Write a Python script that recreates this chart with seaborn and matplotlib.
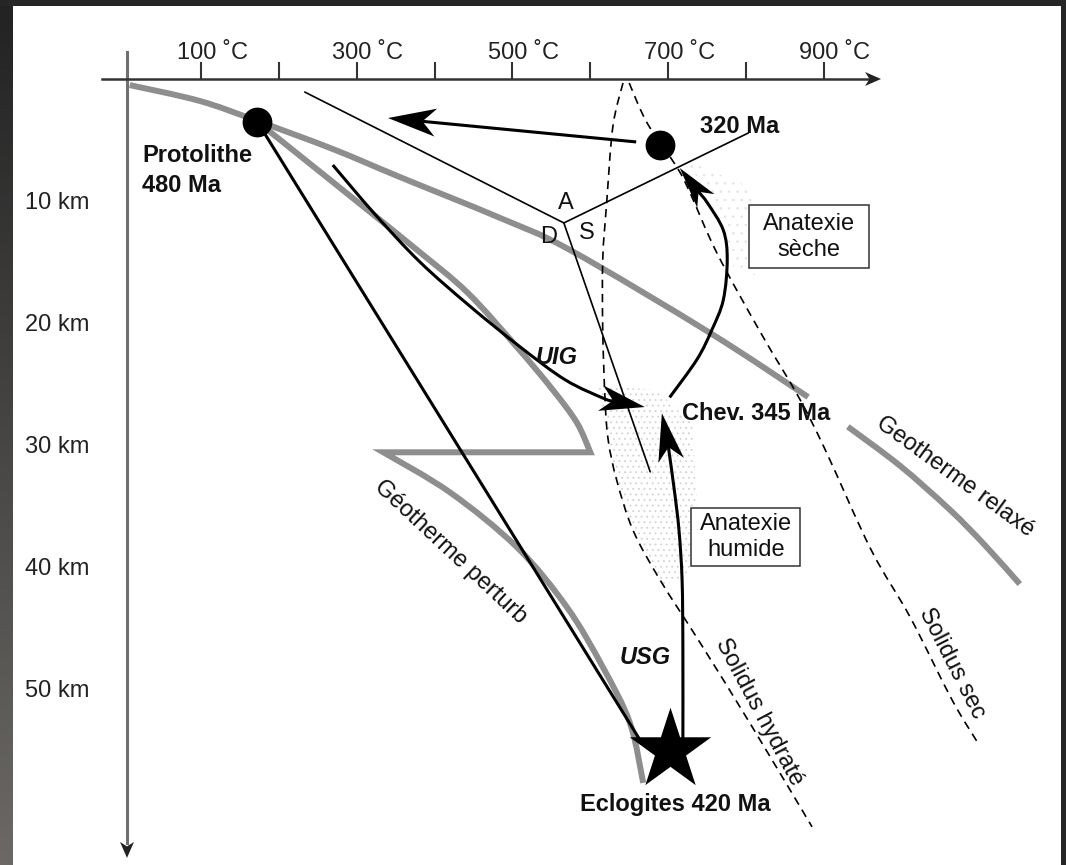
import numpy as np
import matplotlib
matplotlib.use("Agg")
import matplotlib.pyplot as plt
from matplotlib.patches import Polygon, Rectangle, PathPatch
from matplotlib.path import Path
from matplotlib.transforms import ScaledTranslation
import seaborn as sns

# ---------------------------------------------------------------
# values: temperature in °C, depth in km
# ---------------------------------------------------------------
temp_ticks = [100, 200, 300, 400, 500, 600, 700, 800, 900]
temp_labels = ["100 ˚C", "", "300 ˚C", "", "500 ˚C", "", "700 ˚C", "", "900 ˚C"]
depth_ticks = [10, 20, 30, 40, 50]
depth_labels = ["10 km", "20 km", "30 km", "40 km", "50 km"]

# geotherme relaxé (broken around the "Chev. 345 Ma" label)
relaxe_t1 = [8, 98, 172, 269, 355, 484, 574, 754, 880]
relaxe_d1 = [0.5, 1.8, 3.44, 5.74, 8.03, 11.39, 14.02, 20.82, 26.07]
relaxe_t2 = [931, 998, 1062, 1107, 1152]
relaxe_d2 = [28.5, 31.7, 35.3, 38.2, 41.4]

# géotherme perturbé: upper branch, then the thrust step at 30 km, then lower branch
perturbe_up_t = [172, 227, 313, 377, 442, 506, 552, 583, 600]
perturbe_up_d = [3.5, 6.3, 10.7, 14.0, 17.5, 22.0, 25.5, 28.2, 30.6]
perturbe_lo_t = [334, 420, 506, 570, 616, 651, 668]
perturbe_lo_d = [30.6, 33.9, 38.4, 43.3, 48.2, 52.8, 57.7]

# solidus curves
hydrate_t = [642, 629, 621, 616, 616, 619, 623, 634, 655, 690, 741, 808, 885]
hydrate_d = [0.33, 3.9, 10.2, 14.8, 20.6, 26.3, 29.6, 32.9, 37.0, 41.1, 46.2, 53.1, 61.3]
sec_t = [650, 673, 711, 728, 763, 819, 868, 902, 961, 1011, 1065, 1098]
sec_d = [0.33, 3.6, 7.2, 9.3, 14.3, 20.8, 26.1, 30.4, 38.6, 44.1, 50.9, 54.4]

# reaction lines around the A / D / S triple point
triple_t, triple_d = 566, 11.8
reac_a_t, reac_a_d = 233, 1.07
reac_up_t, reac_up_d = 803, 4.43
reac_s_t, reac_s_d = 677, 32.2

# P-T paths
prograde_t = [172, 665]
prograde_d = [3.5, 54.3]
retro_t = [659, 340]
retro_d = [5.16, 3.20]
uig_t = [269, 323, 381, 445, 510, 568, 619, 670]
uig_d = [7.05, 11.07, 15.0, 18.61, 21.97, 24.67, 26.23, 26.89]
usg_t = [719, 719, 718, 714, 708, 700, 692]
usg_d = [54.2, 46.8, 41.1, 37.0, 33.7, 30.0, 27.4]
seche_t = [702, 737, 756, 771, 776, 771, 751, 715]
seche_d = [26.1, 23.0, 20.6, 18.1, 14.8, 12.4, 10.2, 7.3]

# stages
stage_t = [172, 690]
stage_d = [3.5, 5.4]
eclogite_t, eclogite_d = 702, 55.0

# stippled melting zones
stip1_t = [610, 683, 731, 737, 728, 692, 655, 628, 618]
stip1_d = [25.1, 25.5, 28.0, 34.5, 40.7, 41.5, 37.0, 32.0, 28.0]
stip2_t = [722, 799, 831, 812, 782, 760]
stip2_d = [6.6, 8.7, 13.2, 16.1, 15.3, 10.3]

GRAY = "#8e8e8e"

sns.set_theme(style="white")
plt.rcParams["font.family"] = ["Liberation Sans", "DejaVu Sans"]

fig = plt.figure(figsize=(10.66, 8.65), dpi=100)
fig.patch.set_facecolor("#262626")
fig.add_artist(Rectangle((13 / 1066, 0), 1048 / 1066, 1 - 6 / 865,
                         transform=fig.transFigure, fc="white", ec="none", zorder=-2))
# left strip gradient
sax = fig.add_axes([0, 0, 13 / 1066, 1 - 6 / 865])
grad = np.linspace(0, 1, 256).reshape(-1, 1)
sax.imshow(grad, aspect="auto", cmap=matplotlib.colors.LinearSegmentedColormap.from_list(
    "strip", ["#232323", "#6b6865"]))
sax.set_axis_off()

ax = fig.add_axes([0, 0, 1, 1])
ax.set_facecolor("none")
ax.set_xlim(-158.74, 1211.44)
ax.set_ylim(64.43, -6.475)


def smooth(t, d, first=True):
    # Catmull-Rom through the read points, handed to matplotlib as cubic Bezier segments
    p = np.column_stack([t, d]).astype(float)
    ext = np.vstack([p[0], p, p[-1]])
    verts = [p[0]] if first else []
    codes = [Path.MOVETO] if first else []
    for i in range(len(p) - 1):
        p0, p1, p2, p3 = ext[i], ext[i + 1], ext[i + 2], ext[i + 3]
        verts += [p1 + (p2 - p0) / 6, p2 - (p3 - p1) / 6, p2]
        codes += [Path.CURVE4] * 3
    return verts, codes


def curve(t, d, color, lw, z, ls="-", join="round"):
    v, c = smooth(t, d)
    ax.add_patch(PathPatch(Path(v, c), fc="none", ec=color, lw=lw, ls=ls, zorder=z,
                           capstyle="butt", joinstyle=join))


def arrow_head(tip_t, tip_d, from_t, from_d, length, width, color="black", z=5):
    p = ax.transData.transform([[from_t, from_d], [tip_t, tip_d]])
    tip = p[1]
    u = tip - p[0]
    u = u / np.hypot(*u)
    n = np.array([-u[1], u[0]])
    notch = tip - 0.72 * length * u
    head = np.array([tip, tip - length * u + width * n, notch, tip - length * u - width * n])
    inv = ax.transData.inverted()
    ax.add_patch(Polygon(inv.transform(head), closed=True, fc=color, ec="none", zorder=z))
    return inv.transform(notch)


def arrow_path(t, d, length, width, lw=2.2, z=5):
    nt, nd = arrow_head(t[-1], d[-1], t[-2], d[-2], length, width, z=z)
    xs = list(t[:-1]) + [nt]
    ys = list(d[:-1]) + [nd]
    if len(xs) > 2:
        curve(xs, ys, "black", lw, z)
    else:
        sns.lineplot(x=xs, y=ys, sort=False, estimator=None, color="black", lw=lw,
                     ax=ax, zorder=z, solid_capstyle="butt")


# axes as spines
for s in ["right", "bottom"]:
    ax.spines[s].set_visible(False)
ax.spines["top"].set_position(("data", 0))
ax.spines["top"].set_bounds(-27.6, 960)
ax.spines["top"].set_color("#333333")
ax.spines["top"].set_linewidth(1.8)
ax.spines["left"].set_position(("data", 4.5))
ax.spines["left"].set_bounds(-2.21, 62.6)
ax.spines["left"].set_color("#707070")
ax.spines["left"].set_linewidth(2.2)
ax.xaxis.tick_top()
ax.set_xticks(temp_ticks)
ax.set_xticklabels(temp_labels)
ax.set_yticks(depth_ticks)
ax.set_yticklabels(depth_labels)
ax.tick_params(axis="x", direction="out", length=12.2, width=1.5, color="#333333",
               pad=0, labelsize=17, labelcolor="#222222")
ax.tick_params(axis="y", direction="out", length=19.4, width=1.5, color="#333333",
               pad=8, labelsize=17, labelcolor="#222222")
for lab in ax.get_xticklabels():
    lab.set_transform(lab.get_transform() + ScaledTranslation(0.11, -0.02, fig.dpi_scale_trans))
arrow_head(973.7, 0, 900, 0, 16, 7, color="#222222")
arrow_head(4.5, 63.85, 4.5, 55, 16, 7, color="#222222")

# stippled zones
plt.rcParams["hatch.linewidth"] = 0.6
ax.fill(stip1_t, stip1_d, facecolor="white", edgecolor="#d2d2d2", hatch="...",
        linewidth=0, zorder=1)
ax.fill(stip2_t, stip2_d, facecolor="white", edgecolor="#e4e4e4", hatch="..",
        linewidth=0, zorder=1)

# geotherms
curve(relaxe_t1, relaxe_d1, GRAY, 4.3, 2)
curve(relaxe_t2, relaxe_d2, GRAY, 4.3, 2)
v_up, c_up = smooth(perturbe_up_t, perturbe_up_d)
v_lo, c_lo = smooth(perturbe_lo_t, perturbe_lo_d, first=False)
v_all = v_up + [np.array([perturbe_lo_t[0], perturbe_lo_d[0]])] + v_lo
c_all = c_up + [Path.LINETO] + c_lo
ax.add_patch(PathPatch(Path(v_all, c_all), fc="none", ec=GRAY, lw=4.3, zorder=2,
                       capstyle="butt", joinstyle="miter"))

# solidus
curve(hydrate_t, hydrate_d, "black", 1.2, 3, ls=(0, (5, 3.5)))
curve(sec_t, sec_d, "black", 1.2, 3, ls=(0, (5, 3.5)))

# reaction lines
for et, ed in [(reac_a_t, reac_a_d), (reac_up_t, reac_up_d), (reac_s_t, reac_s_d)]:
    sns.lineplot(x=[triple_t, et], y=[triple_d, ed], sort=False, estimator=None,
                 color="black", lw=1.2, ax=ax, zorder=3)

# P-T paths
sns.lineplot(x=prograde_t, y=prograde_d, sort=False, estimator=None, color="black",
             lw=2.2, ax=ax, zorder=4)
arrow_path(retro_t, retro_d, 48, 14)
arrow_path(uig_t, uig_d, 45, 13)
arrow_path(usg_t, usg_d, 48, 13)
arrow_path(seche_t, seche_d, 42, 11)

# stages
sns.scatterplot(x=stage_t, y=stage_d, s=460, color="black", linewidth=0, ax=ax, zorder=6)
sns.scatterplot(x=[eclogite_t], y=[eclogite_d], s=3800, marker="*", color="black",
                linewidth=0, ax=ax, zorder=6)

# labels
bold = dict(fontsize=17, fontweight="bold", color="#111111", zorder=7)
norm = dict(fontsize=17, color="#111111", zorder=7)
ax.text(23.8, 6.31, "Protolithe", ha="left", va="center", **bold)
ax.text(23.8, 8.77, "480 Ma", ha="left", va="center", **bold)
ax.text(741, 3.93, "320 Ma", ha="left", va="center", **bold)
ax.text(717.8, 27.38, "Chev. 345 Ma", ha="left", va="center", **bold)
ax.text(708.8, 59.43, "Eclogites 420 Ma", ha="center", va="center", **bold)
ax.text(557, 22.79, "UIG", ha="center", va="center", style="italic", **bold)
ax.text(670, 47.46, "USG", ha="center", va="center", style="italic", **bold)
ax.text(568.7, 10.16, "A", ha="center", va="center", **norm)
ax.text(546.9, 12.95, "D", ha="center", va="center", **norm)
ax.text(595.7, 12.62, "S", ha="center", va="center", **norm)
ax.text(419.7, 38.77, "Géotherme perturb", rotation=-43, rotation_mode="anchor",
        ha="center", va="center", **norm)
ax.text(1068.7, 32.62, "Geotherme relaxé", rotation=-36, rotation_mode="anchor",
        ha="center", va="center", **norm)
ax.text(816.8, 51.89, "Solidus hydraté", rotation=-62, rotation_mode="anchor",
        ha="center", va="center", **norm)
ax.text(1064.9, 47.87, "Solidus sec", rotation=-63, rotation_mode="anchor",
        ha="center", va="center", **norm)

# boxed labels
ax.add_patch(Rectangle((804.0, 10.37), 154.2, 5.16, fc="white", ec="#333333", lw=1.1, zorder=6))
ax.text(881.1, 12.95, "Anatexie\nsèche", ha="center", va="center", linespacing=1.25, **norm)
ax.add_patch(Rectangle((730.05, 35.165), 140.1, 4.75, fc="white", ec="#333333", lw=1.1, zorder=6))
ax.text(800.1, 37.54, "Anatexie\nhumide", ha="center", va="center", linespacing=1.2, **norm)

fig.savefig("out.png", dpi=100, facecolor=fig.get_facecolor())
